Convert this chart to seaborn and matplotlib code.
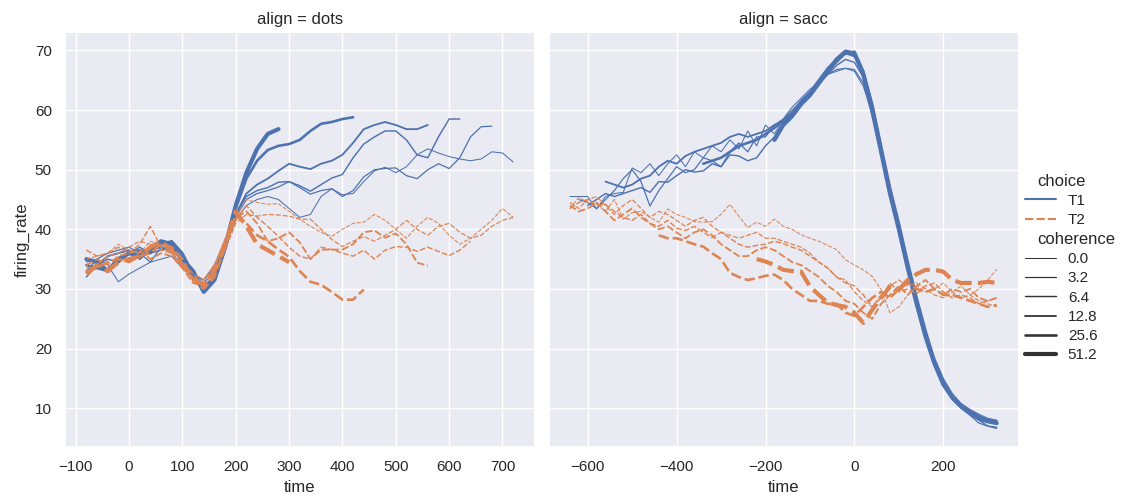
import matplotlib
matplotlib.use("Agg")
import matplotlib.pyplot as plt
import numpy as np
import pandas as pd
import seaborn as sns

STEP = 20  # ms between samples
coherence_levels = [0.0, 3.2, 6.4, 12.8, 25.6, 51.2]
choices = ["T1", "T2"]
aligns = ["dots", "sacc"]

# ---- align = dots : every series starts at -80 ms ----
dots_start = -80
dots_T1 = {
    51.2: [35, 34.5, 33, 35, 36, 35.5, 36.5, 38, 37.5, 35, 33, 29.5, 31.5, 37, 44,
           49.5, 53.5, 56, 56.8],
    25.6: [34, 33.5, 33, 34.5, 36, 36.5, 36, 37.5, 38, 36, 32.5, 30, 31.5, 37, 43.5,
           48.5, 51.5, 53.3, 54, 54.3, 55, 56.5, 57.7, 58, 58.5, 58.8],
    12.8: [33, 34, 35.5, 36, 36.5, 35, 36.5, 37, 36.5, 35, 32, 30.5, 32, 36.5, 42.5,
           46, 47.5, 48.5, 49.8, 51, 50.5, 50.1, 51, 51.5, 52.5, 54.5, 56.8, 57.5, 58,
           57.5, 56.8, 56.8, 57.5],
    6.4: [32, 34, 35, 34.5, 36, 37, 36, 36.5, 37, 34.5, 32, 31, 33, 37.5, 42.5,
          45.5, 46.5, 47, 47.9, 48, 47.3, 46.4, 47.5, 48.6, 49.2, 52, 54.3, 55.5, 56.5,
          56.5, 55, 52.5, 52, 55.5, 58.5, 58.5],
    3.2: [33, 35, 36, 36.5, 37, 36, 34.5, 37, 36, 34, 32.5, 31.5, 34, 38, 42,
          45, 46, 46.5, 47.1, 48, 47, 45.9, 46.5, 46.8, 45.5, 46.5, 48.8, 50, 50.2,
          50.3, 49, 48.5, 50, 51, 50.2, 52, 55.5, 57.2, 57.3],
    0.0: [34.5, 35, 34, 31.2, 32.5, 33.5, 34.5, 35, 35.5, 33.5, 32, 31.5, 33.5, 37, 41.5,
          44, 45, 45.5, 45, 43.5, 42, 42.5, 45.5, 46.8, 45.8, 46, 48, 49.8, 50.4, 49.5,
          50.5, 52.5, 53.5, 52.8, 52.2, 51.8, 51.5, 51.8, 53, 52.8, 51.3],
}
dots_T2 = {
    51.2: [32.5, 34, 33, 34.5, 35, 35.5, 37, 38, 36.5, 34, 32, 30.5, 33, 37.5, 43,
           40.5, 37.5, 36.5, 35.5, 34.5],
    25.6: [33, 33.5, 34.5, 35, 34.5, 35.5, 36, 37.5, 37, 35, 31.5, 30, 32, 37, 42.5,
           41, 39, 38, 36.6, 35.4, 33, 31.2, 30.7, 29.5, 28.2, 28.2, 29.9],
    12.8: [34, 35, 34, 35.5, 36, 36.5, 35, 36, 35.5, 33.5, 31, 30.5, 33.5, 38, 42,
           43, 41, 38, 38.5, 39.5, 37.8, 35, 36.6, 36.6, 36.6, 37.5, 39.5, 39.8, 38.6,
           39.3, 37.5, 34.4, 33.9],
    6.4: [36.5, 35.5, 36, 37, 36, 37.5, 40.5, 37, 36, 34.5, 32.5, 31.5, 34, 37.5, 41.5,
          44, 42, 40.5, 38.8, 37, 35.5, 35, 37, 36.6, 36, 35.5, 36.5, 35, 36.5, 37.1,
          37, 36.3, 37, 36.3, 35.6, 36.5, 38],
    3.2: [33.5, 34, 35.5, 36, 37, 38, 37.5, 36.5, 36, 34, 32, 31, 32.5, 36.5, 41,
          42.5, 42.2, 42.5, 42.4, 42.2, 41.7, 41.7, 40, 38.3, 37.1, 38, 38.8, 38, 39,
          40, 41.5, 40, 39, 40.5, 41, 39.5, 38.5, 39, 40.5, 41.5, 42],
    0.0: [35, 35.5, 36, 37.5, 36.5, 36, 38, 37.5, 36, 33.5, 31.5, 31.5, 34, 38.5, 42,
          45, 44.5, 44.2, 44.3, 43, 41.7, 40.5, 39.5, 38.8, 40, 41, 41.2, 42.5, 41.5,
          40, 38.5, 40.5, 42, 41, 39, 37.5, 38.5, 40, 41.5, 43.5, 42],
}

# ---- align = sacc : every series ends at +320 ms ----
sacc_end = 320
sacc_T1 = {
    51.2: [55, 57.5, 59, 61, 62.5, 64.5, 66.5, 68.5, 69.8, 69.5, 66, 60, 53, 46, 40,
           33.5, 27.5, 22, 17.5, 14, 11.8, 10.3, 9.2, 8.3, 7.8, 7.5],
    25.6: [51, 51.5, 52, 53, 54, 54.5, 55, 56, 57, 58.3, 59.5, 61.5, 63, 65, 67, 68.5,
           69.5, 69.8, 66.5, 61, 54, 47, 41, 34.5, 28.5, 23, 18, 14.5, 12, 10.5, 9.5,
           8.7, 8, 7.8],
    12.8: [48, 47.5, 47, 47.5, 48.5, 49, 50.5, 51.5, 51, 52.3, 53, 53.5, 54, 54.5,
           55.5, 56, 55.5, 56, 56.5, 57.5, 58, 59.5, 61, 62.5, 64.5, 66.5, 68, 69.5, 69,
           66.5, 60.5, 53.5, 46.5, 40.5, 34, 28, 22.5, 18, 14.5, 12, 10.5, 9.5, 8.5,
           8.2, 7.8],
    6.4: [44, 45, 46, 45.5, 46, 46.5, 47, 46.2, 48, 47.9, 49, 50, 49.6, 49.8, 51,
          50.5, 52.5, 52.3, 51.5, 52, 54, 55.5, 58, 59.5, 61, 63, 64.5, 66, 67.5, 68.5,
          68, 65.5, 60, 53.5, 46.5, 40.5, 34, 28, 22.5, 18, 14.2, 11.5, 10, 9, 8, 7,
          6.8],
    3.2: [45, 44.5, 43.5, 45, 46.5, 48.5, 50, 48, 43.9, 46.5, 48.5, 50.5, 49.5, 50,
          52, 51.5, 50.5, 53, 54.5, 53, 55.5, 55.5, 57.5, 58.5, 60, 61.5, 63, 64.5, 66,
          66.8, 67, 66.8, 64.5, 59, 52.5, 46, 40, 33.5, 27.5, 22, 17.5, 14, 11.5, 10,
          8.8, 7.5, 7, 6.6],
    0.0: [45.5, 45.5, 45.5, 43.4, 45.5, 46, 46.2, 50.3, 49.5, 51, 49, 51, 52.5, 50.5,
          53, 52, 54, 53, 55, 53.5, 56.5, 54, 57.5, 56, 58.5, 60.5, 62, 63.5, 64.5, 66,
          66.5, 67, 66.5, 64, 59.5, 53, 46.5, 40.5, 34.5, 28.5, 23, 18.5, 15, 12.5,
          10.8, 9.8, 9, 8.3, 8],
}
sacc_T2 = {
    51.2: [35, 34.6, 34, 33.2, 33, 32.9, 30.4, 29, 27.7, 27.3, 27, 26, 24.3, 26.5,
           28.5, 30.4, 29.9, 31.5, 32.5, 33.2, 33.2, 32.9, 31.5, 31, 31, 31, 31.2, 31],
    25.6: [39, 38.5, 38.5, 38, 37.5, 37.1, 36, 35, 32.7, 32, 31.5, 31.8, 32.2, 32.4,
           31.5, 30, 29, 28, 28, 27.5, 27.5, 26, 25.5, 27, 28.5, 29.5, 28.5, 30, 31, 30,
           29.5, 30, 29, 29, 28.5, 28, 27.5, 27, 27.3],
    12.8: [44, 43, 43.5, 44.5, 43, 41.5, 42.5, 43.5, 42, 41, 40, 40.5, 39.5, 38.5,
           39.5, 40, 39, 37.5, 36.5, 35.5, 35.5, 36.5, 37, 36.5, 35.5, 34.5, 34, 33, 32,
           30.5, 29.5, 28, 27.5, 26, 25, 27.5, 29, 30.5, 29, 30.5, 31.5, 30, 29, 30,
           29.5, 30, 28.5, 28, 28.5],
    6.4: [43.5, 44.5, 45, 44, 44.2, 43, 42, 41.5, 42.5, 41, 40.5, 41.5, 40.2, 39.8,
          40.5, 39.5, 38.6, 39.5, 38.5, 37.5, 37, 37.3, 37.5, 38, 37.6, 37, 36.5, 35.5,
          34.5, 33.5, 32, 31, 30.5, 29, 27, 28.5, 31, 29.5, 30, 29.2, 30.5, 31, 29.5,
          28.5, 29, 28.5, 27.5, 28, 28.5],
    3.2: [44.5, 43.5, 45, 45.5, 44, 42.5, 44, 45, 43.5, 42, 43, 42.5, 41.5, 40.5,
          41.5, 42, 40.5, 39.5, 39, 38.5, 39, 39.5, 38.5, 38.5, 38, 37.5, 37, 36, 34.5,
          33.5, 32, 31.5, 29.5, 28, 27, 29, 30.5, 31.5, 30.5, 31, 30, 29, 28.5, 29.5,
          28.5, 29, 28, 27.5, 27],
    0.0: [43.4, 45.4, 44.5, 44.2, 43, 45, 41.7, 42.8, 43, 42, 41.2, 43.4, 42.5, 42,
          41.3, 41.2, 41.3, 42.5, 44.2, 42.2, 40.3, 41.2, 40.5, 41.7, 40.5, 40, 39.1,
          38.5, 38, 37.3, 36.6, 34.9, 34, 33.2, 32.1, 29.9, 26, 27, 29, 30.5, 29.5, 30,
          31, 29.5, 30.5, 29, 30, 31.5, 33.3],
}

# ---- assemble a long-form table ----
rows = []
for align, tables in (("dots", (dots_T1, dots_T2)), ("sacc", (sacc_T1, sacc_T2))):
    for choice, table in zip(choices, tables):
        for coh, vals in table.items():
            n = len(vals)
            if align == "dots":
                times = [dots_start + STEP * i for i in range(n)]
            else:
                times = [sacc_end - STEP * (n - 1 - i) for i in range(n)]
            for t, v in zip(times, vals):
                rows.append(dict(align=align, choice=choice, coherence=coh,
                                 time=t, firing_rate=v))
dots = pd.DataFrame(rows)

sns.set_theme(style="darkgrid", font_scale=1.0)
plt.rcParams["font.family"] = ["Liberation Sans", "DejaVu Sans"]
plt.rcParams["legend.labelspacing"] = 0.34

g = sns.relplot(
    data=dots, kind="line",
    x="time", y="firing_rate", col="align", col_order=aligns,
    hue="choice", hue_order=choices,
    size="coherence", style="choice", style_order=choices,
    facet_kws=dict(sharex=False),
    height=4.2, aspect=1.12,
)

fig = g.figure
fig.set_size_inches(11.29, 4.97)
fig.subplots_adjust(left=0.0576, right=0.9017, bottom=0.10, top=0.934, wspace=0.03)

# subtitles ("choice", "coherence") drawn flush-left at title size
leg = g._legend
vpack = leg.findobj(matplotlib.offsetbox.VPacker)[0]
for hpack in vpack.get_children():
    kids = hpack.get_children()
    if len(kids) != 2:
        continue
    draw_area, text_area = kids
    texts = [c for c in text_area.get_children() if hasattr(c, "get_text")]
    if texts and texts[0].get_text() in ("choice", "coherence"):
        draw_area.set_width(0)
        for t in texts:
            t.set_fontsize(12)
leg.set_bbox_to_anchor((1.0, 0.461), transform=fig.transFigure)

fig.savefig("out.png", dpi=100)
